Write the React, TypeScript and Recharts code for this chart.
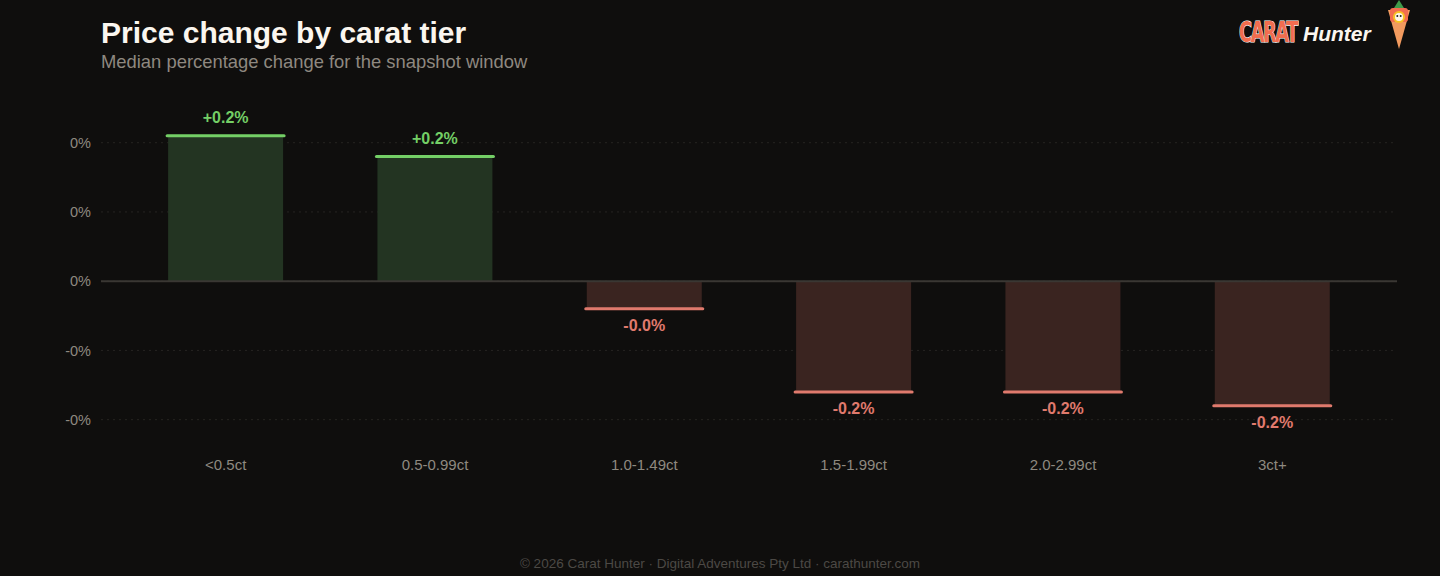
import React from 'react'
import {
  BarChart,
  Bar,
  XAxis,
  YAxis,
  CartesianGrid,
  ReferenceLine,
  LabelList,
} from 'recharts'

// carat tiers and median % change over the snapshot window
const tiers = ['<0.5ct', '0.5-0.99ct', '1.0-1.49ct', '1.5-1.99ct', '2.0-2.99ct', '3ct+']
const changes = [0.21, 0.18, -0.04, -0.16, -0.16, -0.18]
const yTicks = [-0.2, -0.1, 0, 0.1, 0.2]

const BG = '#0f0e0d'
const UP = '#74cf66'
const UP_FILL = '#233422'
const DOWN = '#e07a6d'
const DOWN_FILL = '#3a2420'

const data = tiers.map((tier, i) => ({ tier, change: changes[i] }))

const fmtTick = (v: number) => `${v.toFixed(0)}%`
const fmtLabel = (v: number) => `${v >= 0 ? '+' : ''}${v.toFixed(1)}%`

const TierBar = (props: any) => {
  const { x, y, width, height, payload } = props
  const top = Math.min(y, y + height)
  const h = Math.abs(height)
  const up = payload.change >= 0
  const capY = up ? top : top + h
  return (
    <g>
      <rect x={x} y={top} width={width} height={h} fill={up ? UP_FILL : DOWN_FILL} />
      <line
        x1={x - 1}
        x2={x + width + 1}
        y1={capY}
        y2={capY}
        stroke={up ? UP : DOWN}
        strokeWidth={3}
        strokeLinecap="round"
      />
    </g>
  )
}

const ValueLabel = (props: any) => {
  const { x, y, width, height, value } = props
  const up = value >= 0
  const top = Math.min(y, y + height)
  const bottom = Math.max(y, y + height)
  const ty = up ? top - 18 : bottom + 17
  return (
    <text
      x={x + width / 2}
      y={ty}
      textAnchor="middle"
      dominantBaseline="central"
      fill={up ? UP : DOWN}
      fontSize={16}
      fontWeight={700}
    >
      {fmtLabel(value)}
    </text>
  )
}

const Carrot = () => (
  <svg width={30} height={50} viewBox="0 0 30 50" style={{ position: 'absolute', left: 1384, top: 0 }}>
    <path d="M10 8 L15 0 L20 8 Z" fill="#3f9a4a" />
    <path d="M4 10 L26 10 L15 49 Z" fill="#f29a5e" />
    <rect x={6} y={8} width={18} height={14} rx={3} fill="#f26d4f" />
    <circle cx={15} cy={17} r={6} fill="#f6c324" />
    <circle cx={15} cy={17} r={4} fill="#fff6e8" />
    <circle cx={13.3} cy={16} r={1} fill="#222" />
    <circle cx={16.7} cy={16} r={1} fill="#222" />
  </svg>
)

export default function App() {
  return (
    <div
      style={{
        position: 'absolute',
        left: 0,
        top: 0,
        width: 1440,
        height: 576,
        background: BG,
        fontFamily: '"Liberation Sans", Arial, sans-serif',
        overflow: 'hidden',
      }}
    >
      <div style={{ position: 'absolute', left: 101, top: 16, fontSize: 30, fontWeight: 700, color: '#fbf6ef' }}>
        Price change by carat tier
      </div>
      <div style={{ position: 'absolute', left: 101, top: 51, fontSize: 18.4, color: '#8e8880' }}>
        Median percentage change for the snapshot window
      </div>

      {/* logo */}
      <div
        style={{
          position: 'absolute',
          left: 1239,
          top: 15,
          fontFamily: '"DejaVu Sans Condensed", "Liberation Sans Narrow", sans-serif',
          fontWeight: 700,
          fontSize: 29,
          color: '#f26d4f',
          WebkitTextStroke: '1.2px #ffffff',
          paintOrder: 'stroke fill',
          letterSpacing: -2,
          transform: 'scaleX(0.68)',
          transformOrigin: 'left',
        }}
      >
        CARAT
      </div>
      <div
        style={{
          position: 'absolute',
          left: 1303,
          top: 22,
          fontWeight: 700,
          fontStyle: 'italic',
          fontSize: 21,
          color: '#fbf6ef',
        }}
      >
        Hunter
      </div>
      <Carrot />

      <div style={{ position: 'absolute', left: 0, top: 0 }}>
        <BarChart
          width={1440}
          height={500}
          data={data}
          margin={{ top: 115, right: 43, bottom: 26.5, left: 0 }}
          barCategoryGap="22.5%"
        >
          <CartesianGrid
            vertical={false}
            horizontalValues={yTicks}
            stroke="#262421"
            strokeDasharray="2 4"
          />
          <XAxis
            dataKey="tier"
            axisLine={false}
            tickLine={false}
            height={40}
            tickMargin={20}
            padding={{ left: 20, right: 20 }}
            tick={{ fill: '#8e8980', fontSize: 15 }}
          />
          <YAxis
            width={101}
            domain={[-0.22, 0.24]}
            ticks={yTicks}
            axisLine={false}
            tickLine={false}
            tickMargin={4}
            tickFormatter={fmtTick}
            tick={{ fill: '#8e8980', fontSize: 14.5 }}
          />
          <ReferenceLine y={0} stroke="#3a3733" strokeWidth={2} />
          <Bar dataKey="change" shape={<TierBar />} isAnimationActive={false}>
            <LabelList dataKey="change" content={<ValueLabel />} />
          </Bar>
        </BarChart>
      </div>

      <div
        style={{
          position: 'absolute',
          left: 0,
          width: 1440,
          top: 556,
          textAlign: 'center',
          fontSize: 13.5,
          color: '#4c4945',
        }}
      >
        © 2026 Carat Hunter · Digital Adventures Pty Ltd · carathunter.com
      </div>
    </div>
  )
}
